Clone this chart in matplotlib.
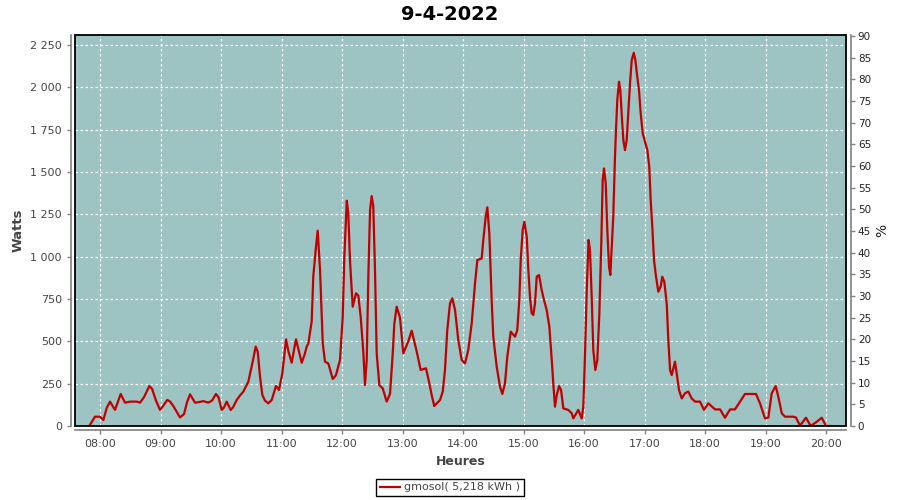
import matplotlib
matplotlib.use("Agg")
import matplotlib.pyplot as plt
from matplotlib.patches import Rectangle
from matplotlib.ticker import FuncFormatter

# ---- data (minutes since midnight, watts) ----
minutes = [469.4, 475.0, 480.0, 483.3, 486.6, 489.9, 494.9, 500.5, 504.8, 509.8,
           516.4, 519.7, 523.6, 528.9, 531.6, 535.5, 539.5, 542.8, 546.7, 549.4,
           552.7, 556.4, 559.3, 563.3, 566.3, 569.3, 574.2, 577.2, 582.4, 587.4,
           591.1, 595.0, 597.5, 600.7, 603.0, 605.6, 609.6, 611.9, 615.6, 618.8,
           622.1, 627.1, 631.4, 634.4, 636.4, 638.7, 641.0, 643.6, 646.9, 650.3,
           654.5, 657.5, 660.8, 664.5, 666.9, 670.1, 672.4, 674.4, 677.3, 680.0,
           682.8, 685.0, 686.6, 689.9, 691.5, 694.2, 695.9, 698.2, 700.9, 703.1,
           706.4, 710.8, 714.0, 718.0, 720.7, 722.3, 724.7, 726.2, 727.9, 730.6,
           733.9, 736.2, 738.5, 741.1, 742.8, 744.5, 746.1, 747.8, 749.4, 751.0,
           752.7, 754.4, 757.0, 760.4, 764.3, 767.6, 770.3, 771.9, 774.2, 777.5,
           780.8, 785.7, 789.1, 794.1, 798.0, 803.3, 806.6, 808.9, 811.5, 817.2,
           819.9, 822.1, 824.4, 827.1, 829.4, 832.1, 835.3, 838.7, 842.0, 845.2,
           848.6, 851.9, 854.2, 858.5, 860.1, 862.5, 864.1, 866.1, 868.4, 870.0,
           873.4, 876.7, 879.0, 881.6, 883.9, 887.3, 891.6, 893.8, 895.8, 897.2,
           899.2, 900.8, 903.2, 904.8, 906.4, 908.1, 909.7, 911.4, 913.1, 915.4,
           918.0, 920.3, 923.0, 925.6, 928.0, 929.5, 931.2, 932.9, 935.2, 937.2,
           939.5, 944.4, 947.8, 949.4, 954.3, 957.7, 959.3, 961.0, 962.7, 964.5,
           965.9, 967.6, 969.2, 971.2, 973.2, 975.2, 977.2, 978.5, 979.8, 981.5,
           983.1, 984.8, 986.1, 987.8, 989.0, 990.7, 991.7, 993.0, 994.7, 996.0,
           997.7, 999.0, 1000.6, 1002.3, 1003.9, 1005.6, 1007.3, 1009.3, 1010.9, 1012.8,
           1014.5, 1016.2, 1018.2, 1020.5, 1022.8, 1024.7, 1026.1, 1027.7, 1029.4, 1031.4,
           1033.7, 1036.0, 1037.6, 1039.6, 1042.0, 1043.6, 1045.3, 1047.0, 1048.6, 1050.2,
           1051.9, 1054.2, 1056.9, 1060.1, 1063.4, 1066.8, 1070.1, 1075.0, 1079.0, 1083.3,
           1089.9, 1094.9, 1099.8, 1104.8, 1109.7, 1114.7, 1119.6, 1130.6, 1134.5, 1139.5,
           1142.8, 1146.1, 1150.1, 1152.7, 1156.1, 1159.3, 1167.6, 1170.2, 1174.2, 1180.1,
           1184.8, 1190.8, 1195.7, 1200.0, 1204.9]
watts = [0, 55, 55, 35, 106, 144, 95, 189, 138, 144,
         144, 138, 170, 236, 220, 150, 95, 120, 154, 145,
         118, 80, 51, 70, 140, 187, 138, 140, 147, 138,
         150, 189, 170, 95, 110, 144, 95, 110, 154, 180,
         203, 262, 380, 469, 439, 291, 183, 150, 134, 154,
         236, 213, 311, 512, 440, 374, 450, 512, 440, 374,
         420, 469, 488, 616, 882, 1059, 1154, 921, 488, 380,
         370, 278, 300, 390, 646, 1000, 1331, 1256, 980, 705,
         784, 770, 646, 439, 242, 390, 882, 1276, 1358, 1300,
         921, 429, 242, 222, 144, 190, 429, 606, 705, 640,
         429, 500, 563, 439, 331, 341, 252, 183, 118, 154,
         203, 331, 567, 725, 754, 685, 508, 390, 370, 449,
         606, 843, 980, 990, 1099, 1236, 1292, 1138, 744, 528,
         350, 232, 189, 252, 409, 557, 528, 567, 744, 980,
         1158, 1207, 1118, 921, 764, 666, 656, 725, 882, 892,
         803, 744, 685, 587, 390, 252, 114, 180, 236, 213,
         104, 95, 75, 45, 95, 45, 114, 429, 803, 1099,
         1040, 764, 449, 331, 390, 666, 1099, 1453, 1522, 1433,
         1158, 941, 892, 1099, 1236, 1591, 1748, 1926, 2034, 1985,
         1807, 1689, 1630, 1689, 1847, 2024, 2162, 2205, 2162, 2063,
         1985, 1847, 1729, 1680, 1630, 1532, 1335, 1177, 980, 882,
         793, 823, 882, 852, 725, 508, 331, 301, 341, 380,
         311, 213, 163, 193, 203, 163, 144, 144, 95, 134,
         98, 98, 49, 98, 98, 144, 189, 189, 134, 45,
         50, 193, 236, 173, 75, 55, 55, 50, 2, 49,
         0, 25, 49, 0, 0]

hour_ticks = [8, 9, 10, 11, 12, 13, 14, 15, 16, 17, 18, 19, 20]
hour_labels = ["08:00", "09:00", "10:00", "11:00", "12:00", "13:00", "14:00",
               "15:00", "16:00", "17:00", "18:00", "19:00", "20:00"]
watt_ticks = [0, 250, 500, 750, 1000, 1250, 1500, 1750, 2000, 2250]
pct_ticks = list(range(0, 95, 5))
title = "9-4-2022"
series_label = "gmosol( 5,218 kWh )"

hours = [m / 60.0 for m in minutes]

fig = plt.figure(figsize=(9, 5), dpi=100)
fig.patch.set_facecolor("white")
ax = fig.add_axes([75 / 900, 74 / 500, 771 / 900, 391 / 500])
ax.set_facecolor("#9dc3c2")

grey = "#808080"
txt = "#444444"

ax.plot(hours, watts, color="#c00000", lw=1.6, label=series_label, zorder=3)

ax.set_xlim(455.2 / 60, 1219.8 / 60)
ax.set_ylim(0, 2310)
ax.set_xticks(hour_ticks)
ax.set_xticklabels(hour_labels)
ax.set_yticks(watt_ticks)
ax.yaxis.set_major_formatter(FuncFormatter(lambda v, p: f"{int(v):,}".replace(",", " ")))
ax.grid(True, color="white", linestyle=(0, (2, 2)), lw=0.9)
ax.set_axisbelow(True)

for s in ["top", "right"]:
    ax.spines[s].set_visible(False)
for s in ["left", "bottom"]:
    ax.spines[s].set_position(("outward", 3))
    ax.spines[s].set_color(grey)
    ax.spines[s].set_linewidth(1.2)
ax.tick_params(colors=grey, labelcolor=txt, labelsize=8, length=3, width=1)

ax2 = ax.twinx()
ax2.set_ylim(0, 90.2)
ax2.set_yticks(pct_ticks)
for s in ["top", "left", "bottom"]:
    ax2.spines[s].set_visible(False)
ax2.spines["right"].set_position(("outward", 3.5))
ax2.spines["right"].set_color(grey)
ax2.spines["right"].set_linewidth(1.2)
ax2.tick_params(colors=grey, labelcolor="#222222", labelsize=7.5, length=3, width=1, pad=2)
ax2.set_ylabel("%", fontsize=10, color="#222222", labelpad=3)

ax.add_patch(Rectangle((0, 0), 1, 1, transform=ax.transAxes, fill=False,
                       edgecolor="black", lw=1.3, zorder=10, clip_on=False))

ax.set_ylabel("Watts", fontsize=9.5, fontweight="bold", color=txt, labelpad=4)
ax.set_xlabel("Heures", fontsize=9, fontweight="bold", color=txt, labelpad=4)

fig.text(0.5, 1 - 15 / 500, title, ha="center", va="center",
         fontsize=14, fontweight="bold", color="black")

leg = fig.legend(loc="center", bbox_to_anchor=(450 / 900, 1 - 487.5 / 500),
                 fontsize=8, frameon=True, fancybox=False, edgecolor="black",
                 framealpha=1, handlelength=1.8, handletextpad=0.4,
                 borderpad=0.35, borderaxespad=0)
leg.get_frame().set_linewidth(1.0)
for t in leg.get_texts():
    t.set_color(txt)

fig.savefig("out.png", dpi=100)
